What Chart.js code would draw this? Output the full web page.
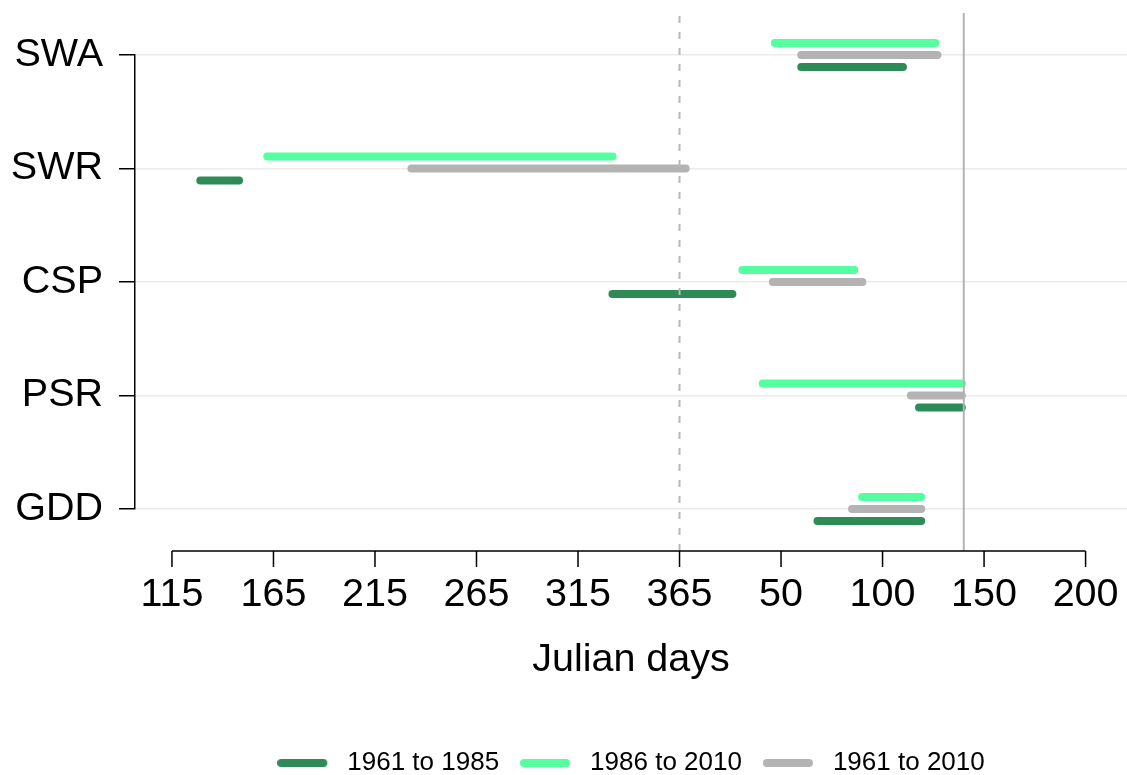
<!DOCTYPE html>
<html>
<head>
<meta charset="utf-8">
<title>Julian days</title>
<script src="https://cdn.jsdelivr.net/npm/chart.js@4.4.1/dist/chart.umd.min.js"></script>
<style>
  html, body { margin: 0; padding: 0; background: #fff; }
  #wrap { width: 1127px; height: 775px; }
</style>
</head>
<body>
<div id="wrap"><canvas id="phenology"></canvas></div>
<script>
(function(){
    // indices, top to bottom
    const indices = ['SWA', 'SWR', 'CSP', 'PSR', 'GDD'];

    // days counted from 1 Jan of the first year, 415 = day 50 of the next year
    const early_start = [423, 127, 330, 481, 431];   // 1961 to 1985
    const early_end   = [477, 150, 393, 506, 486];
    const late_start  = [410, 160, 394, 404, 453];   // 1986 to 2010
    const late_end    = [493, 334, 453, 506, 486];
    const all_start   = [423, 231, 409, 477, 448];   // 1961 to 2010
    const all_end     = [494, 370, 457, 506, 486];

    const dayTicks  = [115, 165, 215, 265, 315, 365, 415, 465, 515, 565];
    const dayLabels = ['115', '165', '215', '265', '315', '365', '50', '100', '150', '200'];

    const yearEnd = 365;   // dashed line
    const cutoff = 505;    // solid line (day 140)

    const legendOrder = ['1961 to 1985', '1986 to 2010', '1961 to 2010'];

    Chart.defaults.font.family = '"Liberation Sans", Arial, sans-serif';
    Chart.defaults.color = '#000';

    function pairs(a, b) {
        return a.map((v, i) => [v, b[i]]);
    }

    // legend key: rounded line with some room after it
    function swatch(color) {
        const c = document.createElement('canvas');
        c.width = 57;
        c.height = 8;
        const g = c.getContext('2d');
        g.strokeStyle = color;
        g.lineWidth = 8;
        g.lineCap = 'round';
        g.beginPath();
        g.moveTo(4, 4);
        g.lineTo(46, 4);
        g.stroke();
        return c;
    }

    const datasets = [
        { label: '1986 to 2010', data: pairs(late_start, late_end), backgroundColor: '#54ff9f' },
        { label: '1961 to 2010', data: pairs(all_start, all_end), backgroundColor: '#b3b3b3' },
        { label: '1961 to 1985', data: pairs(early_start, early_end), backgroundColor: '#2e8b57' }
    ];
    const swatches = datasets.map(d => swatch(d.backgroundColor));

    // bracket x axis and the two reference lines
    const axisBits = {
        id: 'axisBits',
        afterDatasetsDraw(chart) {
            const ctx = chart.ctx;
            const area = chart.chartArea;
            const x = chart.scales.x;
            const top = area.top - 42;
            const base = area.bottom + 42;
            ctx.save();

            ctx.strokeStyle = '#b8b8b8';
            ctx.lineWidth = 2;
            ctx.setLineDash([7, 9]);
            let px = x.getPixelForValue(yearEnd);
            ctx.beginPath();
            ctx.moveTo(px, top + 3);
            ctx.lineTo(px, base);
            ctx.stroke();

            ctx.setLineDash([]);
            ctx.strokeStyle = '#b3b3b3';
            ctx.lineWidth = 2;
            px = x.getPixelForValue(cutoff);
            ctx.beginPath();
            ctx.moveTo(px, top);
            ctx.lineTo(px, base);
            ctx.stroke();

            ctx.strokeStyle = '#000';
            ctx.lineWidth = 1.5;
            ctx.beginPath();
            ctx.moveTo(x.getPixelForValue(dayTicks[0]), base);
            ctx.lineTo(x.getPixelForValue(dayTicks[dayTicks.length - 1]), base);
            dayTicks.forEach(v => {
                const p = x.getPixelForValue(v);
                ctx.moveTo(p, base);
                ctx.lineTo(p, base + 16);
            });
            ctx.stroke();
            ctx.restore();
        }
    };

    const ctx = document.getElementById('phenology');
    new Chart(ctx, {
        type: 'bar',
        data: {
            labels: indices,
            datasets: datasets
        },
        plugins: [axisBits],
        options: {
            indexAxis: 'y',
            responsive: true,
            maintainAspectRatio: false,
            animation: false,
            layout: { padding: { top: 55, right: 0, bottom: -11, left: 0 } },
            datasets: {
                bar: {
                    borderSkipped: false,
                    borderRadius: 4,
                    borderWidth: 0,
                    categoryPercentage: 0.317,
                    barPercentage: 1,
                    maxBarThickness: 8,
                    clip: false
                }
            },
            scales: {
                x: {
                    type: 'linear',
                    min: 96.8,
                    max: 585.4,
                    afterBuildTicks: s => { s.ticks = dayTicks.map(v => ({ value: v })); },
                    afterFit: s => { s.height = 220; },
                    // ticks hidden, their length only pushes the labels down
                    grid: { display: false, drawTicks: true, tickLength: 59 },
                    border: { display: false },
                    ticks: {
                        font: { size: 39.5 },
                        padding: 3,
                        maxRotation: 0,
                        autoSkip: false,
                        callback: (v, i) => dayLabels[i]
                    },
                    title: {
                        display: true,
                        text: 'Julian days',
                        font: { size: 39.5 },
                        padding: { top: 0, bottom: 45 }
                    }
                },
                y: {
                    type: 'category',
                    offset: false,
                    afterFit: s => { s.width = 135; },
                    grid: { offset: false, color: '#ebebeb', lineWidth: 1.5, tickLength: 16, tickColor: '#000', tickWidth: 1.5 },
                    border: { color: '#000', width: 1.5 },
                    ticks: { font: { size: 39.5 }, padding: 16 }
                }
            },
            plugins: {
                tooltip: { enabled: false },
                legend: {
                    position: 'bottom',
                    fullSize: false,
                    labels: {
                        usePointStyle: true,
                        pointStyleWidth: 57,
                        padding: 21,
                        font: { size: 26 },
                        generateLabels(chart) {
                            const items = Chart.defaults.plugins.legend.labels.generateLabels(chart);
                            items.forEach(it => { it.pointStyle = swatches[it.datasetIndex]; });
                            return items;
                        },
                        sort: (a, b) => legendOrder.indexOf(a.text) - legendOrder.indexOf(b.text)
                    }
                }
            }
        }
    });
})()
</script>
</body>
</html>
